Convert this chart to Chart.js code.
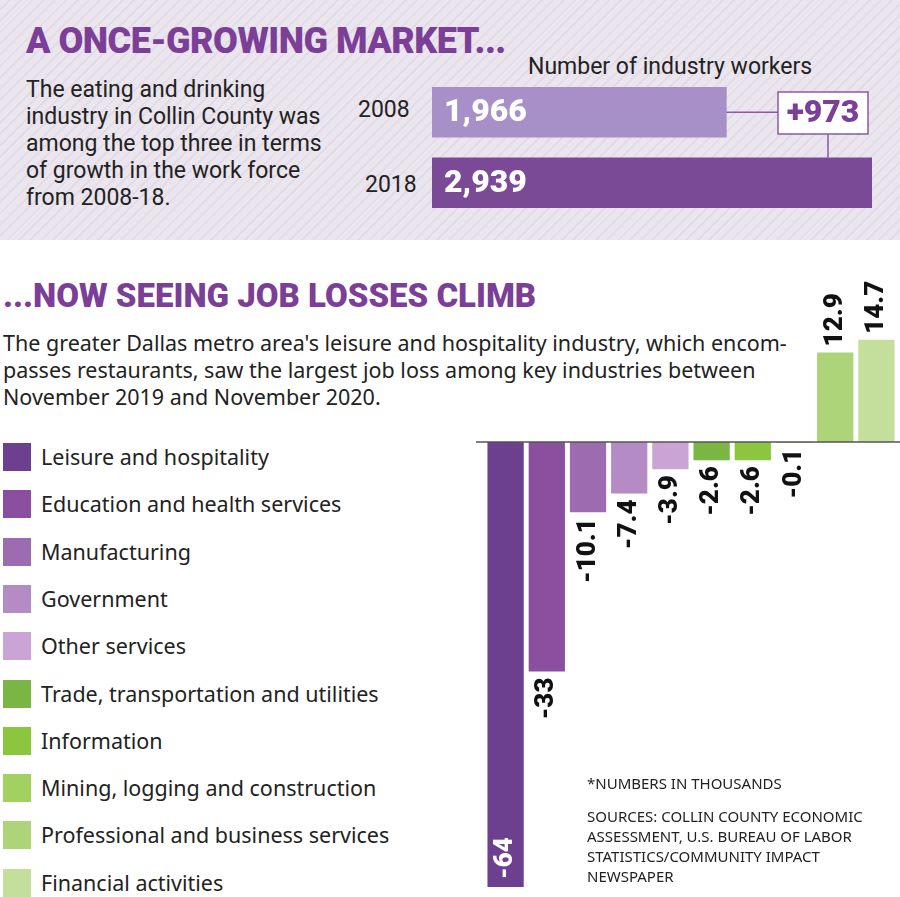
<!DOCTYPE html>
<html>
<head>
<meta charset="utf-8">
<script src="https://cdn.jsdelivr.net/npm/chart.js@4"></script>
<style>
  body { margin:0; width:900px; height:897px; position:relative; background:#fff; overflow:hidden; font-family:"Noto Sans", sans-serif; color:#222; }
  .top { position:absolute; left:0; top:0; width:900px; height:240px;
    background: repeating-linear-gradient(135deg, #ebe5ee 0 6px, #e3dbe7 6px 8px); }
  .narrow { font-family:"Liberation Sans Narrow","Roboto",sans-serif; }
  .abs { position:absolute; }
  .h1 { left:26px; top:20px; font-size:36px; font-weight:900; color:#7b3f98; letter-spacing:-0.5px; }
  .h2 { left:3px; top:276px; font-size:33px; font-weight:900; color:#7b3f98; letter-spacing:0px; }
  .legend div { position:absolute; left:3px; height:28px; font-size:21.5px; line-height:28px; }
  .legend span { display:inline-block; width:28px; height:28px; vertical-align:top; margin-right:10px; }
  .note { left:587px; font-size:15px; line-height:20px; }
</style>
</head>
<body>
<div class="top"></div>
<div class="abs narrow h1">A ONCE-GROWING MARKET...</div>
<div class="abs narrow" style="left:528px;top:53px;font-size:23px;">Number of industry workers</div>
<div class="abs narrow" style="left:26px;top:76px;font-size:23px;line-height:27px;">The eating and drinking<br>industry in Collin County was<br>among the top three in terms<br>of growth in the work force<br>from 2008-18.</div>
<div class="abs narrow" style="left:358px;top:96px;font-size:23px;">2008</div>
<div class="abs narrow" style="left:365px;top:171px;font-size:23px;">2018</div>
<canvas id="top" class="abs" style="left:432px;top:77px;width:440px;height:141px;"></canvas>

<div class="abs narrow h2">...NOW SEEING JOB LOSSES CLIMB</div>
<div class="abs" style="left:3px;top:329px;font-size:21.5px;line-height:27px;">The greater Dallas metro area's leisure and hospitality industry, which encom-<br>passes restaurants, saw the largest job loss among key industries between<br>November 2019 and November 2020.</div>
<div class="legend" id="legend"></div>
<canvas id="bars" class="abs" style="left:476px;top:262px;width:424px;height:628px;"></canvas>
<div class="abs note" style="top:773px;">*NUMBERS IN THOUSANDS</div>
<div class="abs note" style="top:806px;">SOURCES: COLLIN COUNTY ECONOMIC<br>ASSESSMENT, U.S. BUREAU OF LABOR<br>STATISTICS/COMMUNITY IMPACT<br>NEWSPAPER</div>

<script>
// top chart data
const years = ['2008', '2018'];
const workers = [1966, 2939];
const yearColors = ['#a78fc7', '#7b4a96'];

// bottom chart data
const industries = ['Leisure and hospitality', 'Education and health services', 'Manufacturing', 'Government', 'Other services',
  'Trade, transportation and utilities', 'Information', 'Mining, logging and construction', 'Professional and business services', 'Financial activities'];
const change = [-64, -33, -10.1, -7.4, -3.9, -2.6, -2.6, -0.1, 12.9, 14.7];
const colors = ['#6d3f8f', '#8a4f9f', '#9c6bb0', '#b48bc5', '#caa4d4', '#7bb544', '#8cc63f', '#a3d160', '#aed47a', '#c4df9c'];

// legend
const legend = document.getElementById('legend');
industries.forEach(function (name, i) {
    const d = document.createElement('div');
    d.style.top = (443 + i * 47.3) + 'px';
    d.innerHTML = '<span style="background:' + colors[i] + '"></span>' + name;
    legend.appendChild(d);
});

const topLabels = {
    id: 'topLabels',
    afterDatasetsDraw(chart) {
        const ctx = chart.ctx;
        const meta = chart.getDatasetMeta(0);
        ctx.save();
        ctx.fillStyle = '#fff';
        ctx.font = '900 32px "Liberation Sans Narrow", Roboto, sans-serif';
        ctx.textBaseline = 'middle';
        meta.data.forEach(function (bar, i) {
            ctx.fillText(workers[i].toLocaleString('en-US'), bar.base + 12, bar.y + 1);
        });
        // difference box
        const b0 = meta.data[0], b1 = meta.data[1];
        ctx.strokeStyle = '#8a5aa6';
        ctx.lineWidth = 1.5;
        const bx = 346, bw = 90, by = 15, bh = 42;
        ctx.beginPath();
        ctx.moveTo(b0.x, b0.y); ctx.lineTo(bx, b0.y);
        ctx.moveTo(bx + bw / 2 + 5, by + bh); ctx.lineTo(bx + bw / 2 + 5, b1.y - 25);
        ctx.stroke();
        ctx.fillStyle = '#fff';
        ctx.fillRect(bx, by, bw, bh);
        ctx.strokeRect(bx, by, bw, bh);
        ctx.fillStyle = '#7b3f98';
        ctx.textAlign = 'center';
        ctx.fillText('+' + (workers[1] - workers[0]), bx + bw / 2, by + bh / 2 + 1);
        ctx.restore();
    }
};

new Chart(document.getElementById('top'), {
    type: 'bar',
    data: { labels: years, datasets: [{ data: workers, backgroundColor: yearColors, barThickness: 50 }] },
    options: {
        indexAxis: 'y', responsive: false, animation: false,
        plugins: { legend: { display: false }, tooltip: { enabled: false } },
        scales: { x: { display: false, min: 0, max: 2939 }, y: { display: false } }
    },
    plugins: [topLabels]
});

const barLabels = {
    id: 'barLabels',
    afterDatasetsDraw(chart) {
        const ctx = chart.ctx;
        const y0 = chart.scales.y.getPixelForValue(0);
        ctx.save();
        ctx.strokeStyle = '#555';
        ctx.lineWidth = 1.5;
        ctx.beginPath();
        ctx.moveTo(0, y0); ctx.lineTo(chart.width, y0);
        ctx.stroke();
        ctx.font = '900 26px Roboto, "Liberation Sans", sans-serif';
        ctx.textBaseline = 'middle';
        chart.getDatasetMeta(0).data.forEach(function (bar, i) {
            const v = change[i];
            ctx.save();
            ctx.fillStyle = '#111';
            if (v < 0 && bar.y > chart.height - 80) {
                // label would fall off the bottom: draw inside the bar
                ctx.fillStyle = '#fff';
                ctx.translate(bar.x, bar.y - 8);
                ctx.rotate(-Math.PI / 2);
                ctx.textAlign = 'left';
            } else if (v < 0) {
                ctx.translate(bar.x, bar.y + 6);
                ctx.rotate(-Math.PI / 2);
                ctx.textAlign = 'right';
            } else {
                ctx.translate(bar.x, bar.y - 6);
                ctx.rotate(-Math.PI / 2);
                ctx.textAlign = 'left';
            }
            ctx.fillText(String(v), 0, 0);
            ctx.restore();
        });
        ctx.restore();
    }
};

new Chart(document.getElementById('bars'), {
    type: 'bar',
    data: { labels: industries, datasets: [{ data: change, backgroundColor: colors, barPercentage: 0.88, categoryPercentage: 1 }] },
    options: {
        responsive: false, animation: false,
        layout: { padding: { left: 9, right: 3 } },
        plugins: { legend: { display: false }, tooltip: { enabled: false } },
        scales: { x: { display: false }, y: { display: false, min: -64.43, max: 25.9 } }
    },
    plugins: [barLabels]
});
</script>
</body>
</html>
